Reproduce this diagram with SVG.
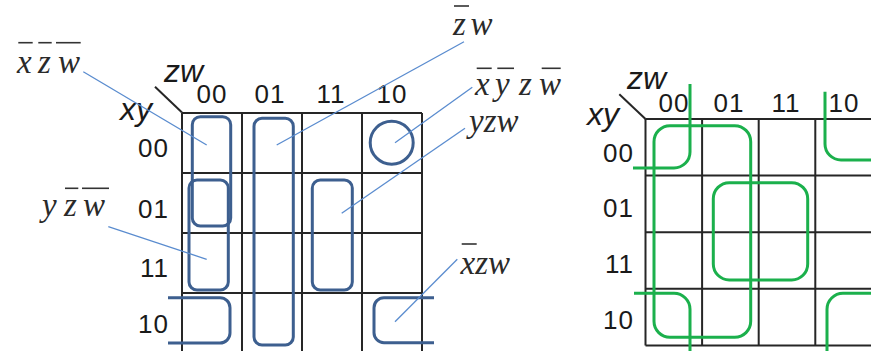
<svg xmlns="http://www.w3.org/2000/svg" width="871" height="351" viewBox="0 0 871 351">
<style>
.grid{stroke:#262626;stroke-width:2;fill:none}
.blue{stroke:#3d5f8f;stroke-width:3;fill:none}
.green{stroke:#1bb04c;stroke-width:3;fill:none}
.lead{stroke:#5a8ccf;stroke-width:1.3;fill:none}
.bar{stroke:#333;stroke-width:1.6}
.num{font-family:"Liberation Sans",Arial,sans-serif;font-size:26px;fill:#1a1a1a;letter-spacing:1px}
.var{font-family:"Liberation Sans",Arial,sans-serif;font-size:32px;font-style:italic;fill:#1a1a1a}
.lab{font-family:"Liberation Serif","Times New Roman",serif;font-size:33px;font-style:italic;fill:#2a2a2a}
</style>
<rect width="871" height="351" fill="#fff"/>

<!-- Left map -->
<g id="left-map">
  <g id="left-grid" class="grid">
    <path d="M182,113 H422 M182,173 H422 M182,233 H422 M182,293 H422"/>
    <path d="M182,113 V353 M242,113 V353 M302,113 V353 M362,113 V353 M422,113 V353"/>
    <line x1="155" y1="86.7" x2="182" y2="112.5"/>
  </g>
  <g id="left-axis-labels">
    <text class="var" x="164" y="81.7">zw</text>
    <text class="var" x="120" y="120">xy</text>
    <g class="num" text-anchor="middle">
      <text x="212" y="103.3">00</text>
      <text x="270" y="103.3">01</text>
      <text x="331" y="103.3">11</text>
      <text x="392" y="103.3">10</text>
    </g>
    <g class="num" text-anchor="end">
      <text x="169" y="157">00</text>
      <text x="169" y="218">01</text>
      <text x="169" y="277">11</text>
      <text x="169" y="333">10</text>
    </g>
  </g>
  <g id="left-groups">
    <rect id="g-xzw" class="blue" x="192.3" y="116.7" width="38.4" height="109.3" rx="8"/>
    <rect id="g-yzw-bar" class="blue" x="189" y="180" width="39.3" height="110" rx="8"/>
    <rect id="g-zw" class="blue" x="254" y="118.3" width="39.3" height="226.7" rx="8"/>
    <circle id="g-xyzw" class="blue" cx="391.7" cy="142.7" r="21.5"/>
    <rect id="g-yzw" class="blue" x="312.3" y="180" width="40" height="110" rx="8"/>
    <path id="g-xzw-wrap-l" class="blue" d="M168,297.7 H220 A10,10 0 0 1 230,307.7 V333 A10,10 0 0 1 220,343 H168"/>
    <path id="g-xzw-wrap-r" class="blue" d="M434,297.7 H384 A10,10 0 0 0 374,307.7 V332.7 A10,10 0 0 0 384,342.7 H434"/>
  </g>
</g>

<!-- Leader lines -->
<g id="connectors" class="lead">
  <line x1="83.3" y1="71.7" x2="206.7" y2="145"/>
  <line x1="464" y1="41.7" x2="276.7" y2="145"/>
  <line x1="472.3" y1="87.3" x2="395" y2="142.7"/>
  <line x1="465" y1="128.3" x2="341.7" y2="213.3"/>
  <line x1="108.3" y1="226.7" x2="206.7" y2="259.3"/>
  <line x1="457.3" y1="259.3" x2="395" y2="321.7"/>
</g>

<!-- Term labels -->
<g id="label-xzw-bar">
  <text class="lab" y="72.7"><tspan x="17">x</tspan><tspan x="38">z</tspan><tspan x="58">w</tspan></text>
  <line class="bar" x1="18.3" y1="42.7" x2="32.7" y2="42.7"/>
  <line class="bar" x1="38.3" y1="42.7" x2="51.7" y2="42.7"/>
  <line class="bar" x1="56" y1="42.7" x2="80.7" y2="42.7"/>
</g>
<g id="label-zw">
  <text class="lab" y="35"><tspan x="453">z</tspan><tspan x="470.5">w</tspan></text>
  <line class="bar" x1="454" y1="6" x2="469" y2="6"/>
</g>
<g id="label-xyzw">
  <text class="lab" y="95"><tspan x="475">x</tspan><tspan x="495">y</tspan><tspan x="519">z</tspan><tspan x="539">w</tspan></text>
  <line class="bar" x1="476.7" y1="68.3" x2="491.7" y2="68.3"/>
  <line class="bar" x1="497.3" y1="68.3" x2="514" y2="68.3"/>
  <line class="bar" x1="541.7" y1="68.3" x2="560.7" y2="68.3"/>
</g>
<g id="label-yzw">
  <text class="lab" x="469" y="131.7">yzw</text>
</g>
<g id="label-yzw-bar">
  <text class="lab" y="216"><tspan x="42">y</tspan><tspan x="64">z</tspan><tspan x="83">w</tspan></text>
  <line class="bar" x1="65" y1="188.3" x2="78.3" y2="188.3"/>
  <line class="bar" x1="82" y1="188.3" x2="109" y2="188.3"/>
</g>
<g id="label-xzw">
  <text class="lab" x="460.5" y="274.3">xzw</text>
  <line class="bar" x1="461.7" y1="244" x2="476.7" y2="244"/>
</g>

<!-- Right map -->
<g id="right-map">
  <g id="right-grid" class="grid">
    <path d="M645.5,119 H871 M645.5,175.6 H871 M645.5,232.2 H871 M645.5,288.8 H871 M645.5,345.4 H871"/>
    <path d="M645.5,119 V345.4 M702.1,119 V345.4 M758.7,119 V345.4 M815.3,119 V345.4"/>
    <line x1="619.3" y1="94.3" x2="645.5" y2="119"/>
  </g>
  <g id="right-axis-labels">
    <text class="var" x="627" y="89.3">zw</text>
    <text class="var" x="587" y="125">xy</text>
    <g class="num" text-anchor="middle">
      <text x="674" y="111.7">00</text>
      <text x="729" y="111.7">01</text>
      <text x="786" y="111.7">11</text>
      <text x="844" y="111.7">10</text>
    </g>
    <g class="num" text-anchor="end">
      <text x="634" y="161.7">00</text>
      <text x="634" y="217.3">01</text>
      <text x="634" y="273.3">11</text>
      <text x="634" y="329.3">10</text>
    </g>
  </g>
  <g id="right-groups">
    <rect id="r-big" class="green" x="654" y="125.7" width="96.7" height="211.6" rx="16"/>
    <rect id="r-center" class="green" x="713.3" y="182.7" width="94.4" height="97.3" rx="16"/>
    <path id="r-tl" class="green" d="M690,84 V152 A16,16 0 0 1 674,168 H633"/>
    <path id="r-tr" class="green" d="M825,91.7 V144 A16,16 0 0 0 841,160 H871"/>
    <path id="r-bl" class="green" d="M634,293.3 H674 A16,16 0 0 1 690,309.3 V351"/>
    <path id="r-br" class="green" d="M871,293.3 H843 A16,16 0 0 0 827,309.3 V351"/>
  </g>
</g>
</svg>
